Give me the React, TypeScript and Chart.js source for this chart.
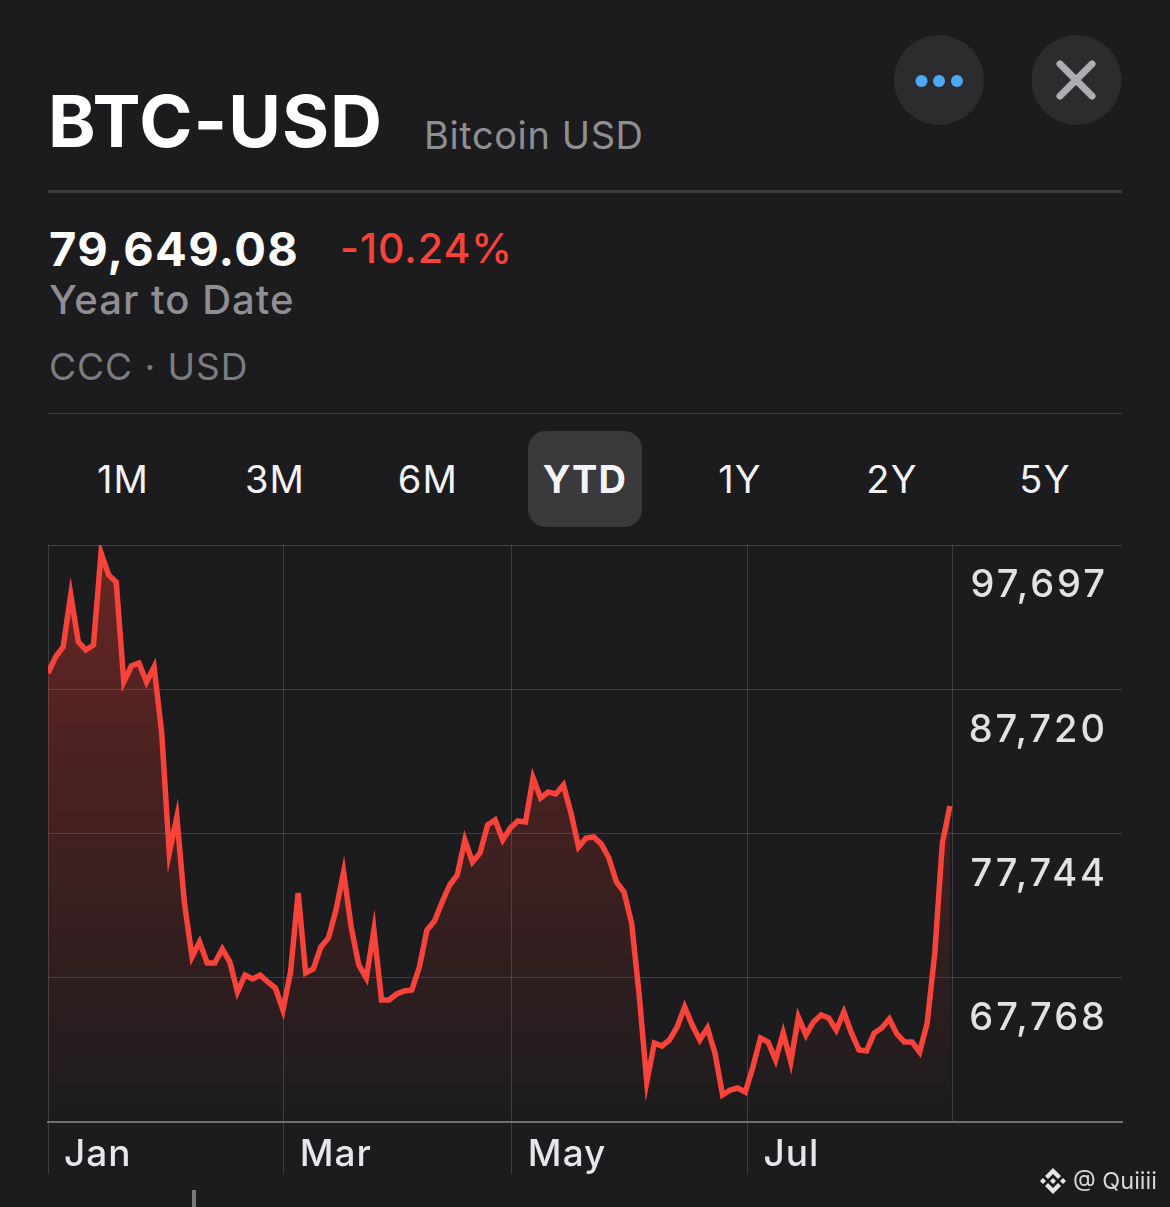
import React, { useEffect, useRef } from "react";
import { Chart, registerables } from "chart.js";

Chart.register(...registerables);

const prices = [
  88845, 89951, 90643, 94239, 90988, 90435, 90781, 97144, 95622, 95138,
  88222, 89329, 89536, 88222, 89259, 84695, 76396, 78885, 72938, 69203,
  70240, 68788, 68788, 69756, 68857, 66782, 67958, 67682, 67958, 67474,
  67059, 65538, 68166, 73629, 68097, 68373, 69895, 70517, 72454, 75082,
  71278, 68650, 67751, 71070, 66229, 66229, 66644, 66852, 66921, 68511,
  71070, 71693, 73007, 74183, 74874, 77295, 75773, 76396, 78332, 78678,
  77295, 78125, 78609, 78540, 81583, 80200, 80614, 80476, 81099, 79162,
  76811, 77433, 77502, 77018, 76050, 74390, 73698, 71555, 66575, 60558,
  63255, 63048, 63463, 64362, 65745, 64500, 63463, 64293, 62564, 59659,
  60005, 60143, 59866, 61595, 63601, 63324, 62080, 63947, 61941, 65053,
  63809, 64708, 65192, 64984, 64154, 65399, 63947, 62771, 62702, 63947,
  64293, 64915, 63878, 63324, 63324, 62633, 64639, 69480, 77087, 79649,
];
const priceTicks = [97697, 87720, 77744, 67768];
const axisFloor = 57791;
const monthLabels = ["Jan", "Mar", "May", "Jul"];
const monthSessions = [0, 31.1, 61.2, 92.3];
const lastSession = 119.3;
const sessionCapacity = 141.7;
const ranges = ["1M", "3M", "6M", "YTD", "1Y", "2Y", "5Y"];
const rangeCenters = [123, 275, 428, 585, 740, 892, 1045];

const FONT = "Inter, 'Liberation Sans', sans-serif";

function Label(props: { x: number; y: number; size: number; color: string; weight?: number; children: React.ReactNode; center?: boolean; spacing?: number }) {
  const { x, y, size, color, weight = 400, children, center, spacing = 0 } = props;
  return (
    <div
      style={{
        position: "absolute",
        left: x,
        top: y,
        transform: center ? "translate(-50%,-50%)" : "translateY(-50%)",
        fontFamily: FONT,
        fontSize: size,
        color,
        fontWeight: weight,
        whiteSpace: "nowrap",
        lineHeight: 1,
        letterSpacing: spacing,
      }}
    >
      {children}
    </div>
  );
}

export default function App() {
  const ref = useRef<HTMLCanvasElement>(null);
  useEffect(() => {
    const chart = new Chart(ref.current!, {
      type: "line",
      data: {
        labels: prices.map((_, i) => i),
        datasets: [
          {
            data: prices.map((p, i) => ({ x: i, y: p })),
            borderColor: "#f8433a",
            borderWidth: 5.5,
            borderJoinStyle: "miter",
            borderCapStyle: "butt",
            pointRadius: 0,
            tension: 0,
            fill: "start",
            backgroundColor: (c: any) => {
              const area = c.chart.chartArea;
              if (!area) return "rgba(255,59,48,0.2)";
              const g = c.chart.ctx.createLinearGradient(0, area.top, 0, area.bottom);
              g.addColorStop(0, "rgba(255,59,48,0.34)");
              g.addColorStop(0.5, "rgba(255,59,48,0.17)");
              g.addColorStop(1, "rgba(255,59,48,0)");
              return g;
            },
          },
        ],
      },
      plugins: [
        {
          id: "tracking",
          beforeDraw(c: any) {
            c.ctx.letterSpacing = "1px";
          },
          afterDatasetsDraw(c: any) {
            c.ctx.letterSpacing = "3px";
          },
        },
      ],
      options: {
        animation: false,
        responsive: false,
        layout: { padding: { left: 48, right: 48, top: 545, bottom: 33 } },
        plugins: { legend: { display: false }, tooltip: { enabled: false } },
        scales: {
          x: {
            type: "linear",
            min: 0,
            max: sessionCapacity,
            afterBuildTicks: (s: any) => {
              s.ticks = [...monthSessions, lastSession].map((value) => ({ value }));
            },
            afterFit: (s: any) => {
              s.height = 52;
            },
            border: { display: true, color: "#707072", width: 2 },
            grid: {
              color: "rgba(255,255,255,0.15)",
              lineWidth: 1,
              drawTicks: true,
              tickLength: 52,
              tickColor: (c: any) => (c.tick && c.tick.value === lastSession ? "rgba(0,0,0,0)" : "rgba(255,255,255,0.15)"),
            },
            ticks: {
              autoSkip: false,
              maxRotation: 0,
              align: "start",
              labelOffset: 16,
              padding: -41,
              color: "#e5e5ea",
              font: { family: FONT, size: 37, weight: "500" },
              callback: (v: any) => {
                const i = monthSessions.indexOf(Number(v));
                return i >= 0 ? monthLabels[i] : "";
              },
            },
          },
          y: {
            position: "right",
            min: axisFloor,
            max: priceTicks[0],
            afterBuildTicks: (s: any) => {
              s.ticks = [axisFloor, ...priceTicks].map((value) => ({ value }));
            },
            afterFit: (s: any) => {
              s.width = 0;
            },
            border: { display: false },
            grid: { color: "rgba(255,255,255,0.15)", lineWidth: 1, drawTicks: false },
            ticks: {
              mirror: true,
              padding: -14,
              labelOffset: 41,
              z: 1,
              color: "#e2e2e4",
              font: { family: FONT, size: 38, weight: "500" },
              callback: (v: any) => (priceTicks.includes(Number(v)) ? Number(v).toLocaleString("en-US") : ""),
            },
          },
        },
      },
    } as any);
    return () => chart.destroy();
  }, []);

  return (
    <div style={{ position: "absolute", left: 0, top: 0, width: 1170, height: 1207, background: "#1c1c1e", overflow: "hidden" }}>
      <Label x={48} y={121} size={72} color="#ffffff" weight={700} spacing={1}>BTC-USD</Label>
      <Label x={424} y={135} size={38} color="#8e8e93" spacing={0.6}>Bitcoin USD</Label>
      <div style={{ position: "absolute", left: 48, top: 190, width: 1074, height: 3, background: "#3a3a3c" }} />
      <Label x={49} y={248} size={47} color="#ffffff" weight={700} spacing={1.3}>79,649.08</Label>
      <Label x={340} y={248} size={41} color="#f8433a" weight={500} spacing={1}>-10.24%</Label>
      <Label x={49} y={300} size={40} color="#8e8e93" weight={500} spacing={1}>Year to Date</Label>
      <Label x={49} y={366} size={37} color="#7c7c80" spacing={1}>CCC · USD</Label>
      <div style={{ position: "absolute", left: 48, top: 413, width: 1074, height: 1, background: "#3a3a3c" }} />
      <div style={{ position: "absolute", left: 528, top: 431, width: 114, height: 96, borderRadius: 18, background: "#3a3a3c" }} />
      {ranges.map((r, i) => (
        <Label key={r} x={rangeCenters[i]} y={479} size={38} color="#f2f2f7" weight={r === "YTD" ? 700 : 400} spacing={1.2} center>
          {r}
        </Label>
      ))}
      <canvas ref={ref} width={1170} height={1207} style={{ position: "absolute", left: 0, top: 0, width: 1170, height: 1207 }} />
      <svg width={1170} height={1207} style={{ position: "absolute", left: 0, top: 0 }}>
        <circle cx={939} cy={80} r={45} fill="#2c2c2e" />
        <circle cx={921.5} cy={81} r={6} fill="#4da8f5" />
        <circle cx={939} cy={81} r={6} fill="#4da8f5" />
        <circle cx={957} cy={81} r={6} fill="#4da8f5" />
        <circle cx={1076.5} cy={80} r={45} fill="#2c2c2e" />
        <path d="M1060 64 L1092 96 M1092 64 L1060 96" stroke="#aeaeb2" strokeWidth={7} strokeLinecap="round" />
        <rect x={192} y={1190} width={4} height={17} fill="#77777a" />
        <g fill="#e6e6e6">
          <path d="M1053 1168 l8 8 -3 3 -5 -5 -5 5 -3 -3z" />
          <path d="M1053 1194 l8 -8 -3 -3 -5 5 -5 -5 -3 3z" />
          <path d="M1053 1178 l3 3 -3 3 -3 -3z" />
          <path d="M1043 1178 l3 3 -3 3 -3 -3z" />
          <path d="M1063 1178 l3 3 -3 3 -3 -3z" />
        </g>
      </svg>
      <Label x={1073} y={1181} size={23.5} color="#d8d8d8">@ Quiiii</Label>
    </div>
  );
}
